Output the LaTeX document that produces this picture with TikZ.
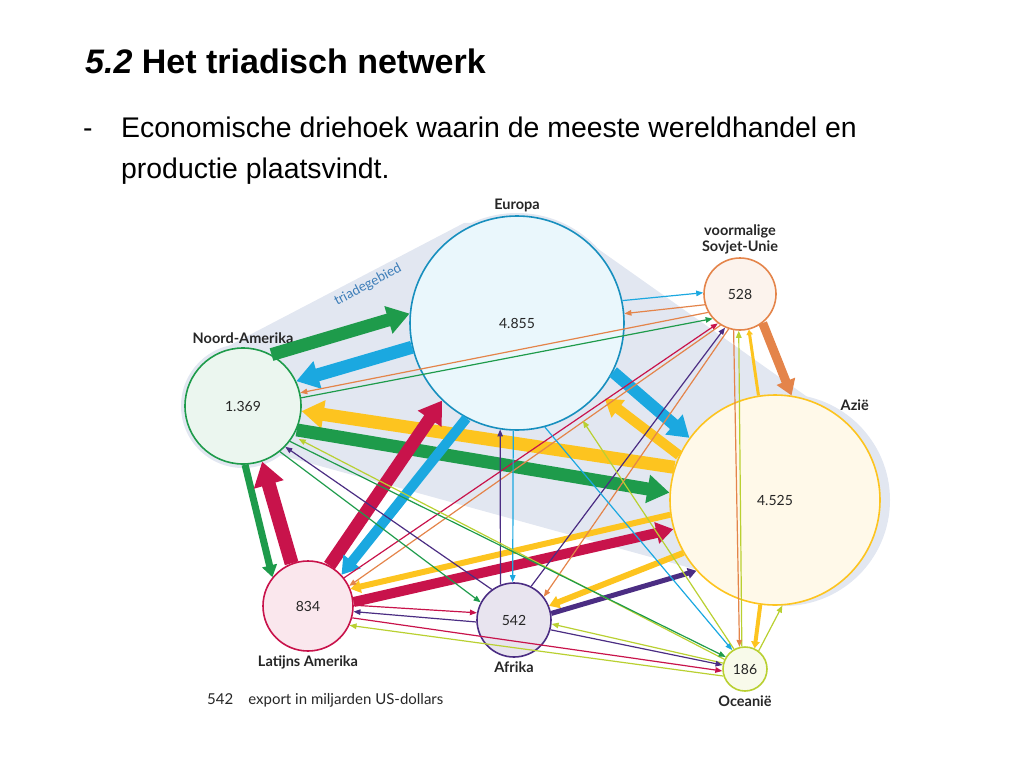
\documentclass[tikz,border=0pt]{standalone}
\usepackage{fontspec}
\setmainfont{Liberation Sans}
\newfontfamily\lato{Lato}
\usetikzlibrary{arrows.meta}
\definecolor{triade}{HTML}{E2E7F1}
\definecolor{groen}{HTML}{1E9B4B}
\definecolor{blauw}{HTML}{1BA8E0}
\definecolor{geel}{HTML}{FDC41F}
\definecolor{rood}{HTML}{C8134B}
\definecolor{oranje}{HTML}{E4844A}
\definecolor{paars}{HTML}{4B2D83}
\definecolor{geelgroen}{HTML}{B9D031}
\definecolor{tekstgrijs}{HTML}{262626}
\definecolor{triadetekst}{HTML}{3C7DB8}
\begin{document}
\begin{tikzpicture}[x=1pt, y=-1pt] % 1pt per pixel, y naar beneden
\tikzstyle{land} = [circle, draw, line width=1.6pt, inner sep=0pt, text=tekstgrijs, font=\lato\fontsize{14}{16}\selectfont] % cirkel van een regio
\tikzstyle{naam} = [text=tekstgrijs, align=center, font=\lato\bfseries\fontsize{14.5}{16}\selectfont] % naam bij de cirkel
\tikzstyle{regel} = [anchor=base west, inner sep=0pt, font=\fontsize{28.4}{34}\selectfont] % tekst van de dia
\tikzstyle{stroom} = [-{Triangle[length=0pt 1.7, width=0pt 2.1]}] % dikke pijl
\tikzstyle{lijn} = [line width=1.2pt, -{Triangle[length=7pt, width=5.5pt]}] % dunne pijl

\useasboundingbox (0,0) rectangle (1024,768);

% titel en tekst
\node[regel, font=\fontsize{34}{40}\selectfont\bfseries] (titel) at (85,74) {\textit{5.2} Het triadisch netwerk};
\node[regel] (streep) at (83,137) {-};
\node[regel] (regel1) at (121,137) {Economische driehoek waarin de meeste wereldhandel en};
\node[regel] (regel2) at (121,178) {productie plaatsvindt.};

% triadegebied
\fill[triade] (215,353) -- (464,223) -- (560,222) -- (847,425) -- (705,572) -- (280,455) -- cycle;
\fill[triade] (243,406) circle (62pt) (517,323) circle (110pt) (784,500) circle (106pt);
\node[rotate=28, text=triadetekst, font=\lato\fontsize{13.5}{16}\selectfont] (gebied) at (368,285) {triadegebied};

% regio's
\node[land, draw=blauw!85!black, fill=blauw!9, minimum size=214pt, label={[naam]above:Europa}] (eu) at (517,323) {4.855};
\node[land, draw=groen, fill=groen!9, minimum size=116pt, label={[naam]above:Noord-Amerika}] (na) at (243,406) {1.369};
\node[land, draw=oranje, fill=oranje!10, minimum size=72pt, label={[naam]above:voormalige\\Sovjet-Unie}] (su) at (740,294) {528};
\node[land, draw=geel, fill=geel!10, minimum size=210pt, label={[naam]54:Azië}] (az) at (775,500) {4.525};
\node[land, draw=rood, fill=rood!10, minimum size=90pt, label={[naam]below:Latijns Amerika}] (la) at (308,606) {834};
\node[land, draw=paars, fill=paars!13, minimum size=74pt, label={[naam]below:Afrika}] (af) at (514,620) {542};
\node[land, draw=geelgroen, fill=geelgroen!10, minimum size=44pt, label={[naam]below:Oceanië}] (oc) at (745,669) {186};

% dikke stromen
\draw[stroom, groen, line width=13pt] (na.61) -- (eu.175);
\draw[stroom, blauw, line width=13pt] (eu.193) -- (na.25);
\draw[stroom, geel, line width=13pt] (az.162) -- (na.-5);
\draw[stroom, groen, line width=13pt] (na.-24) -- (az.176);
\draw[stroom, blauw, line width=12pt] (eu.-27) -- (az.144);
\draw[stroom, geel, line width=10pt, shorten >=8pt] (az.155) -- (eu.-41);
\draw[stroom, oranje, line width=9pt] (su.-52) -- (az.81);
\draw[stroom, groen, line width=7pt] (na.-88) -- (la.141);
\draw[stroom, rood, line width=14pt] (la.111) -- (na.-71);
\draw[stroom, rood, line width=13pt] (la.62) -- (eu.226);
\draw[stroom, blauw, line width=10pt] (eu.242) -- (la.43);
\draw[stroom, rood, line width=10pt] (la.5) -- (az.196);
\draw[stroom, geel, line width=6pt] (az.188) -- (la.22);
\draw[stroom, geel, line width=6pt] (az.210) -- (af.22);
\draw[stroom, paars, line width=5pt] (af.10) -- (az.222);
\draw[stroom, geel, line width=4pt] (az.262) -- (oc.65);
\draw[stroom, geel, line width=3pt] (az.99) -- (su.-76);

% dunne stromen
\draw[lijn, geelgroen] (oc.53) -- (az.-86);
\draw[lijn, geelgroen] (oc.98) -- (su.-92);
\draw[lijn, oranje] (su.260) -- (oc.104);
\draw[lijn, blauw] (eu.12) -- (su.178);
\draw[lijn, oranje] (su.197) -- (eu.5);
\draw[lijn, oranje] (su.210) -- (na.13);
\draw[lijn, groen] (na.8) -- (su.222);
\draw[lijn, rood] (la.38) -- (su.233);
\draw[lijn, oranje] (su.238) -- (la.26);
\draw[lijn, paars] (af.63) -- (su.246);
\draw[lijn, oranje] (su.252) -- (af.38);
\draw[lijn, paars] (af.111) -- (eu.261);
\draw[lijn, blauw] (eu.268) -- (af.92);
\draw[lijn, blauw] (eu.-75) -- (oc.124);
\draw[lijn, geelgroen, shorten >=10pt] (oc.119) -- (eu.-56);
\draw[lijn, geelgroen, shorten >=6pt] (oc.155) -- (na.-31);
\draw[lijn, paars] (af.126) -- (na.-44);
\draw[lijn, groen] (na.-51) -- (af.152);
\draw[lijn, groen] (na.-37) -- (oc.148);
\draw[lijn, rood] (la.1) -- (af.169);
\draw[lijn, paars] (af.183) -- (la.-7);
\draw[lijn, geelgroen] (oc.198) -- (la.-25);
\draw[lijn, rood] (la.-15) -- (oc.185);
\draw[lijn, geelgroen] (oc.165) -- (af.-6);
\draw[lijn, paars] (af.-15) -- (oc.170);

% legenda
\node[anchor=west, inner sep=0pt, text=tekstgrijs, font=\lato\fontsize{15}{17}\selectfont] (legenda) at (207,700) {542\hspace{15pt}export in miljarden US-dollars};
\end{tikzpicture}
\end{document}
